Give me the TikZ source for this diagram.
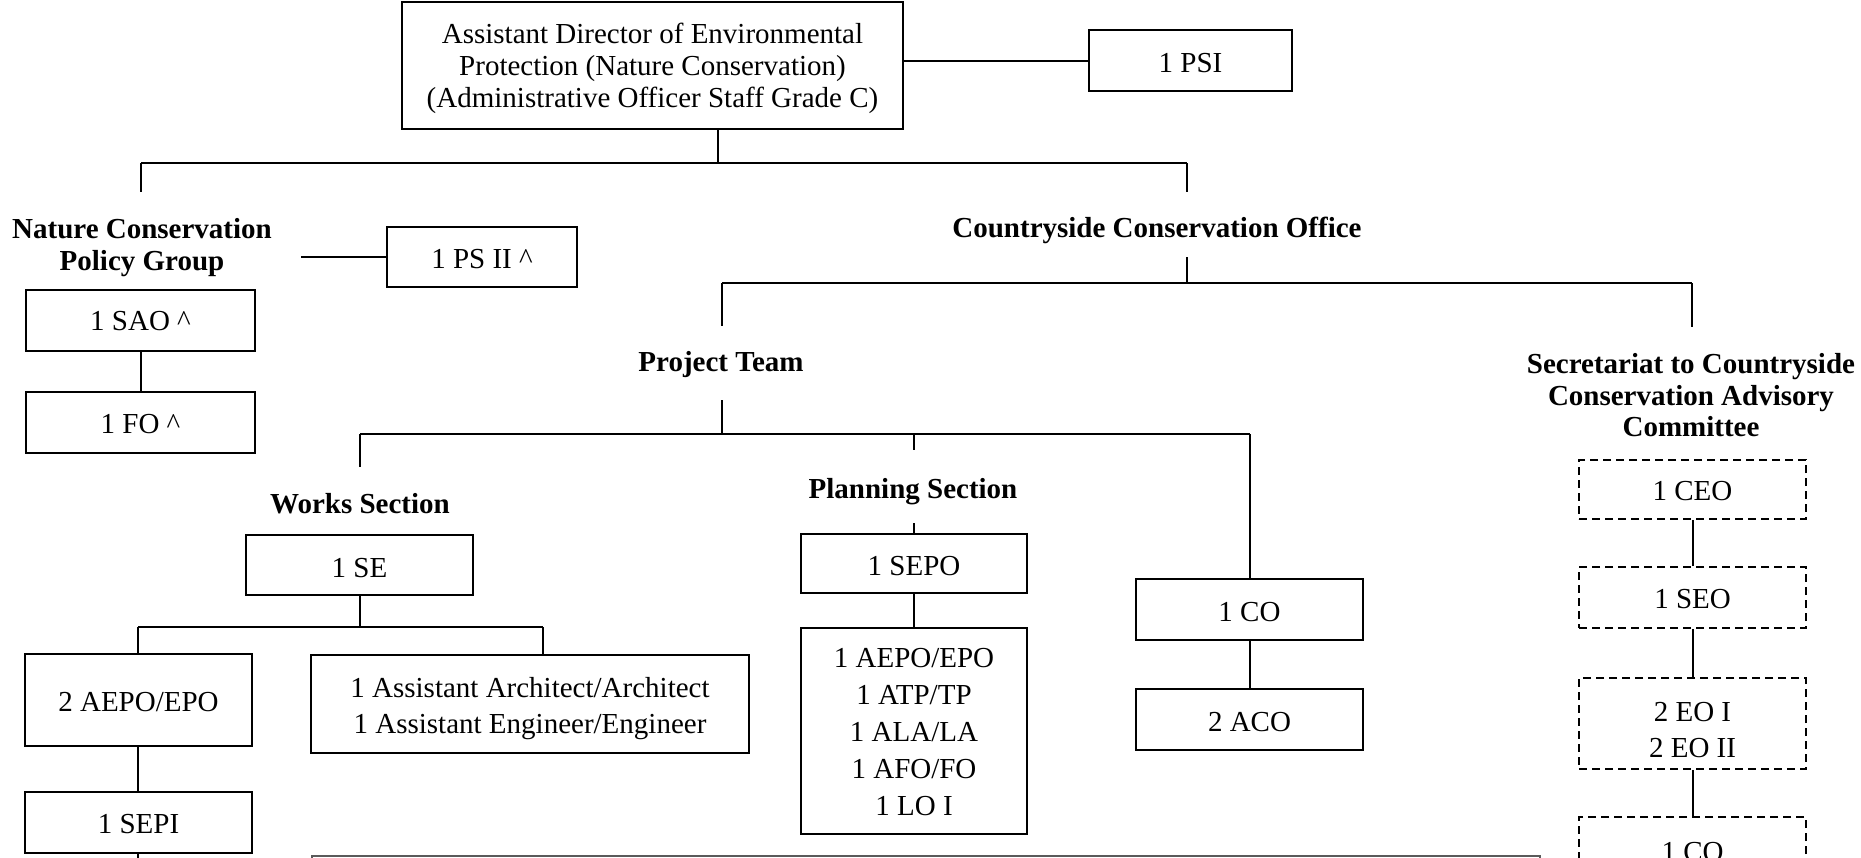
\documentclass[tikz,border=0pt]{standalone}
\usepackage{fontspec}
\setmainfont{Liberation Serif}
\definecolor{notegray}{HTML}{5A5A5A}
\newcommand\dn[2]{\raisebox{-#1}[\height][\depth]{#2}}
\begin{document}
\begin{tikzpicture}[x=1pt,y=-1pt,
  box/.style={draw, line width=2.3pt, inner sep=0pt, align=center, font=\fontsize{29}{32}\selectfont},
  dbox/.style={box, dash pattern=on 8pt off 5pt},
  lbl/.style={inner sep=0pt, align=center},
  head/.style={inner sep=0pt, align=center, font=\fontsize{29}{32}\selectfont\bfseries},
  conn/.style={line width=2pt}]
\useasboundingbox (0,0) rectangle (1861,857);
\clip (0,0) rectangle (1861,857);

% ---- boxes ----
\node[box, minimum width=501pt, minimum height=127pt,
  label={[lbl, name=topt, yshift=-3pt, font=\fontsize{29}{32}\selectfont]center:{Assistant Director of Environmental\\Protection (Nature Conservation)\\(Administrative Officer Staff Grade C)}}] (top) at (652.5,65.5) {};
\node[box, minimum width=203pt, minimum height=61pt] (psi) at (1190.5,60.5) {\dn{2.5pt}{1 PSI}};
\node[head] (ncpg) at (142,247.5) {Nature Conservation\\Policy Group};
\node[box, minimum width=190pt, minimum height=60pt] (psii) at (482,257) {\dn{2pt}{1 PS II \textasciicircum}};
\node[box, minimum width=229pt, minimum height=61pt] (sao) at (140.5,320.5) {\dn{1pt}{1 SAO \textasciicircum}};
\node[box, minimum width=229pt, minimum height=61pt] (fo) at (140.5,422.5) {\dn{1.5pt}{1 FO \textasciicircum}};
\node[head] (cco) at (1157,230.5) {Countryside Conservation Office};
\node[head] (pteam) at (721,365) {Project Team};
\node[head, font=\fontsize{29}{31.5}\selectfont\bfseries] (sec) at (1691,395.5)
  {Secretariat to Countryside\\Conservation Advisory\\Committee};
\node[head] (works) at (360,504) {Works Section};
\node[head] (plansec) at (913,491.5) {Planning Section};
\node[box, minimum width=227pt, minimum height=60pt] (se) at (359.5,565) {\dn{3pt}{1 SE}};
\node[box, minimum width=227pt, minimum height=92pt] (aepo) at (138.5,700) {\dn{2pt}{2 AEPO/EPO}};
\node[box, minimum width=438pt, minimum height=98pt,
  label={[lbl, name=archt, yshift=-5pt, font=\fontsize{29}{36}\selectfont]center:{1 Assistant Architect/Architect\\1 Assistant Engineer/Engineer}}] (arch) at (530,704) {};
\node[box, minimum width=227pt, minimum height=61pt] (sepi) at (138.5,822.5) {\dn{2pt}{1 SEPI}};
\node[box, minimum width=226pt, minimum height=59pt] (sepo) at (914,563.5) {\dn{2.5pt}{1 SEPO}};
\node[box, minimum width=226pt, minimum height=206pt,
  label={[lbl, name=plant, yshift=-1pt, font=\fontsize{29}{37}\selectfont]center:{1 AEPO/EPO\\1 ATP/TP\\1 ALA/LA\\1 AFO/FO\\1 LO I}}] (plan) at (914,731) {};
\node[box, minimum width=227pt, minimum height=61pt] (co) at (1249.5,609.5) {\dn{2.5pt}{1 CO}};
\node[box, minimum width=227pt, minimum height=61pt] (aco) at (1249.5,719.5) {\dn{2.5pt}{2 ACO}};
\node[dbox, minimum width=227pt, minimum height=59pt] (ceo) at (1692.5,489.5) {\dn{2pt}{1 CEO}};
\node[dbox, minimum width=227pt, minimum height=61pt] (seo) at (1692.5,597.5) {\dn{2pt}{1 SEO}};
\node[dbox, minimum width=227pt, minimum height=91pt,
  label={[lbl, name=eot, yshift=-6.5pt, font=\fontsize{29}{36}\selectfont]center:{2 EO I\\2 EO II}}] (eo) at (1692.5,723.5) {};
\node[dbox, minimum width=227pt, minimum height=70pt] (cotwo) at (1692.5,852) {1 CO};
\node[draw=notegray, line width=2pt, minimum width=1228pt, minimum height=60pt, anchor=north west, inner sep=0pt] (note) at (311,855) {};

% ---- junction coordinates ----
\coordinate (j0) at (718,163);
\coordinate (jL) at (141,163);
\coordinate (jR) at (1187,163);
\coordinate (jLb) at (141,192);
\coordinate (jRb) at (1187,192);
\coordinate (n1) at (301,257);
\coordinate (c2) at (1187,257);
\coordinate (c3) at (1187,283);
\coordinate (c4) at (722,283);
\coordinate (c5) at (1692,283);
\coordinate (c6) at (722,326);
\coordinate (c7) at (1692,327);
\coordinate (c8) at (722,400);
\coordinate (c9) at (722,434);
\coordinate (p1) at (360,434);
\coordinate (p2) at (1250,434);
\coordinate (p3) at (360,467);
\coordinate (p4) at (914,434);
\coordinate (p5) at (914,450);
\coordinate (p6) at (914,523);
\coordinate (s1) at (360,627);
\coordinate (s2) at (138,627);
\coordinate (s3) at (543,627);
\coordinate (s4) at (138,880);

% ---- connectors ----
\draw[conn] (top.south -| j0) -- (j0);
\draw[conn] (jL) -- (jR);
\draw[conn] (jL) -- (jLb);
\draw[conn] (jR) -- (jRb);
\draw[conn] (psi.west -| top.east) -- (psi.west);
\draw[conn] (n1) -- (psii.west);
\draw[conn] (sao.south) -- (fo.north);
\draw[conn] (c2) -- (c3);
\draw[conn] (c4) -- (c5);
\draw[conn] (c4) -- (c6);
\draw[conn] (c5) -- (c7);
\draw[conn] (c8) -- (c9);
\draw[conn] (p1) -- (p2);
\draw[conn] (p1) -- (p3);
\draw[conn] (p4) -- (p5);
\draw[conn] (p2) -- (co.north -| p2);
\draw[conn] (p6) -- (sepo.north);
\draw[conn] (sepo.south) -- (plan.north);
\draw[conn] (se.south -| s1) -- (s1);
\draw[conn] (s2) -- (s3);
\draw[conn] (s2) -- (aepo.north -| s2);
\draw[conn] (s3) -- (arch.north -| s3);
\draw[conn] (aepo.south -| s2) -- (sepi.north -| s2);
\draw[conn] (sepi.south -| s4) -- (s4);
\draw[conn] (co.south -| p2) -- (aco.north -| p2);
\draw[conn] (ceo.south) -- (seo.north);
\draw[conn] (seo.south) -- (eo.north);
\draw[conn] (eo.south) -- (cotwo.north);
\end{tikzpicture}
\end{document}
